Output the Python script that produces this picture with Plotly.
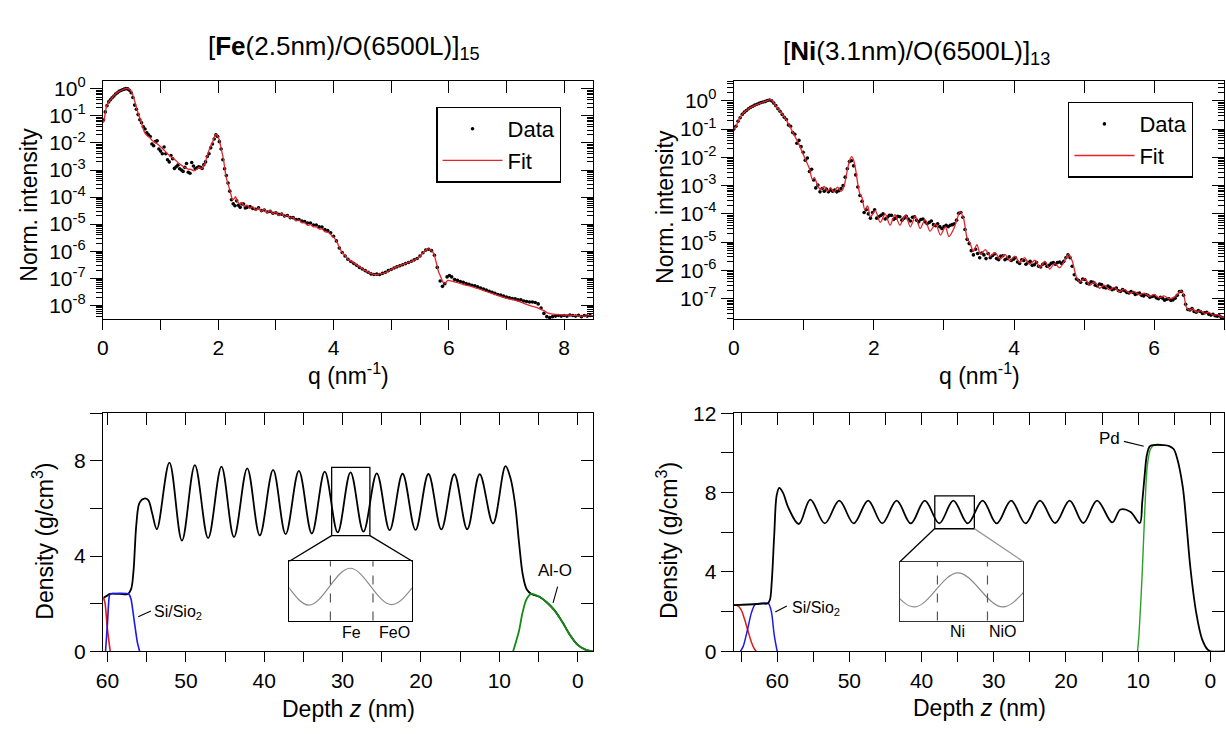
import plotly.graph_objects as go

W, H = 1226, 734
FONT = "Liberation Sans, Arial, sans-serif"

# ---------------- X-ray reflectivity, Fe/O multilayer ----------------
fe_q_fit = [0.00, 0.02, 0.06, 0.10, 0.15, 0.20, 0.26, 0.33, 0.41, 0.45,
            0.49, 0.55, 0.61, 0.66, 0.72, 0.76, 0.81, 0.86, 0.92, 0.98,
            1.04, 1.10, 1.18, 1.25, 1.32, 1.40, 1.47, 1.53, 1.58, 1.63,
            1.67, 1.71, 1.76, 1.81, 1.86, 1.90, 1.93, 1.96, 1.99, 2.02,
            2.05, 2.09, 2.13, 2.16, 2.19, 2.22, 2.25, 2.28, 2.30, 2.33,
            2.37, 2.41, 2.45, 2.50, 2.55, 2.60, 2.65, 2.70, 2.75, 2.80,
            2.85, 2.90, 2.95, 3.00, 3.05, 3.10, 3.15, 3.20, 3.25, 3.30,
            3.35, 3.40, 3.45, 3.50, 3.55, 3.60, 3.65, 3.70, 3.75, 3.80,
            3.85, 3.90, 3.95, 4.00, 4.05, 4.10, 4.15, 4.20, 4.25, 4.30,
            4.38, 4.46, 4.55, 4.65, 4.72, 4.80, 4.89, 4.98, 5.08, 5.17,
            5.26, 5.35, 5.44, 5.50, 5.57, 5.62, 5.66, 5.70, 5.74, 5.78,
            5.82, 5.86, 5.90, 5.94, 5.98, 6.03, 6.09, 6.18, 6.27, 6.38,
            6.50, 6.62, 6.73, 6.85, 6.96, 7.08, 7.19, 7.30, 7.42, 7.52,
            7.59, 7.65, 7.71, 7.78, 7.85, 8.00, 8.15, 8.30, 8.50]
fe_log_fit = [-1.25, -1.15, -0.66, -0.48, -0.36, -0.22, -0.12, -0.04, 0.02, 0.00,
              -0.08, -0.45, -0.90, -1.20, -1.60, -1.72, -1.80, -1.92, -2.00, -2.10,
              -2.22, -2.35, -2.52, -2.62, -2.76, -2.88, -2.96, -2.98, -3.03, -2.97,
              -2.90, -2.95, -2.80, -2.46, -2.15, -1.98, -1.80, -1.68, -1.75, -1.90,
              -2.20, -2.60, -3.18, -3.45, -3.66, -3.90, -4.10, -4.05, -3.98, -4.15,
              -4.25, -4.20, -4.35, -4.30, -4.42, -4.35, -4.50, -4.40, -4.52, -4.45,
              -4.58, -4.50, -4.62, -4.55, -4.68, -4.60, -4.72, -4.68, -4.78, -4.75,
              -4.88, -4.85, -4.95, -4.95, -5.05, -5.02, -5.10, -5.10, -5.18, -5.18,
              -5.28, -5.30, -5.38, -5.48, -5.62, -5.85, -6.05, -6.15, -6.30, -6.36,
              -6.47, -6.59, -6.72, -6.82, -6.87, -6.84, -6.80, -6.70, -6.59, -6.52,
              -6.45, -6.38, -6.29, -6.20, -6.02, -5.93, -5.92, -5.98, -6.10, -6.40,
              -6.75, -6.95, -7.15, -7.18, -7.08, -7.10, -7.13, -7.18, -7.25, -7.30,
              -7.38, -7.47, -7.55, -7.63, -7.72, -7.78, -7.84, -7.93, -8.02, -8.08,
              -8.14, -8.20, -8.28, -8.32, -8.34, -8.36, -8.37, -8.40, -8.38]

fe_q_data = [0.01, 0.04, 0.07, 0.10, 0.13, 0.16, 0.19, 0.22, 0.25, 0.28,
             0.31, 0.34, 0.37, 0.40, 0.43, 0.46, 0.49, 0.52, 0.55, 0.58,
             0.61, 0.64, 0.67, 0.70, 0.73, 0.76, 0.79, 0.82, 0.85, 0.88,
             0.91, 0.94, 0.97, 1.00, 1.03, 1.06, 1.09, 1.12, 1.15, 1.18,
             1.21, 1.24, 1.27, 1.30, 1.33, 1.36, 1.39, 1.42, 1.45, 1.48,
             1.51, 1.54, 1.57, 1.60, 1.63, 1.66, 1.69, 1.72, 1.75, 1.78,
             1.81, 1.84, 1.87, 1.90, 1.93, 1.96, 1.99, 2.02, 2.05, 2.08,
             2.11, 2.14, 2.17, 2.20, 2.23, 2.26, 2.29, 2.32, 2.35, 2.38,
             2.41, 2.44, 2.47, 2.50,
             2.55, 2.60, 2.65, 2.70, 2.75, 2.80, 2.85, 2.90, 2.95, 3.00,
             3.05, 3.10, 3.15, 3.20, 3.25, 3.30, 3.35, 3.40, 3.45, 3.50,
             3.55, 3.60, 3.65, 3.70, 3.75, 3.80, 3.85, 3.90, 3.95, 4.00,
             4.05, 4.10, 4.15, 4.20, 4.25, 4.30, 4.35, 4.40, 4.45, 4.50,
             4.55, 4.60, 4.65, 4.70, 4.75, 4.80, 4.85, 4.90, 4.95, 5.00,
             5.05, 5.10, 5.15, 5.20, 5.25, 5.30, 5.35, 5.40, 5.45, 5.50,
             5.55, 5.60, 5.65, 5.70, 5.75, 5.80, 5.85, 5.89, 5.93, 5.97,
             6.01, 6.05, 6.10, 6.15, 6.20, 6.25, 6.30, 6.35, 6.40, 6.45,
             6.50, 6.55, 6.60, 6.65, 6.70, 6.75, 6.80, 6.85, 6.90, 6.95,
             7.00, 7.05, 7.10, 7.15, 7.20, 7.25, 7.30, 7.35, 7.40, 7.45,
             7.50, 7.55, 7.60, 7.65, 7.70, 7.75, 7.80, 7.85, 7.90, 7.95,
             8.00, 8.05, 8.10, 8.15, 8.20, 8.25, 8.30, 8.35, 8.40, 8.45]
fe_log_data = [-1.15, -0.85, -0.62, -0.48, -0.40, -0.33, -0.26, -0.19, -0.14, -0.09,
               -0.06, -0.03, -0.01, 0.01, 0.00, -0.05, -0.14, -0.32, -0.60, -0.75,
               -0.95, -1.14, -1.25, -1.40, -1.48, -1.62, -1.70, -1.76, -2.04, -2.10,
               -1.95, -1.92, -2.22, -2.30, -2.40, -2.15, -2.40, -2.62, -2.70, -2.46,
               -2.58, -2.94, -2.88, -2.82, -2.95, -3.00, -3.05, -2.90, -2.76, -3.08,
               -3.12, -2.72, -2.85, -2.95, -2.92, -2.88, -2.90, -2.94, -2.80, -2.70,
               -2.50, -2.40, -2.18, -2.04, -1.85, -1.70, -1.76, -1.95, -2.22, -2.62,
               -2.95, -3.20, -3.48, -3.78, -4.10, -4.25, -4.32, -4.14, -4.30, -4.38,
               -4.25, -4.26, -4.40, -4.38,
               -4.35, -4.42, -4.45, -4.40, -4.50, -4.48, -4.55, -4.53, -4.60, -4.58,
               -4.64, -4.63, -4.70, -4.68, -4.76, -4.76, -4.83, -4.83, -4.89, -4.90,
               -4.96, -4.96, -5.03, -5.03, -5.10, -5.11, -5.20, -5.24, -5.32, -5.45,
               -5.62, -5.88, -6.05, -6.18, -6.30, -6.38, -6.45, -6.52, -6.60, -6.66,
               -6.72, -6.78, -6.84, -6.86, -6.85, -6.86, -6.82, -6.78, -6.72, -6.68,
               -6.62, -6.58, -6.54, -6.50, -6.46, -6.42, -6.37, -6.32, -6.27, -6.18,
               -6.06, -5.96, -5.93, -5.98, -6.15, -6.60, -7.10, -7.30, -7.20, -6.95,
               -6.90, -6.95, -7.05, -7.08, -7.12, -7.15, -7.20, -7.22, -7.26, -7.28,
               -7.32, -7.36, -7.40, -7.44, -7.48, -7.52, -7.56, -7.60, -7.62, -7.66,
               -7.70, -7.72, -7.75, -7.76, -7.80, -7.80, -7.84, -7.86, -7.88, -7.88,
               -7.90, -7.95, -8.10, -8.30, -8.42, -8.45, -8.42, -8.40, -8.38, -8.40,
               -8.38, -8.40, -8.36, -8.38, -8.40, -8.37, -8.42, -8.38, -8.40, -8.38]

# ---------------- X-ray reflectivity, Ni/O multilayer ----------------
ni_q_fit = [0.00, 0.025, 0.05, 0.08, 0.13, 0.18, 0.25, 0.32, 0.39, 0.46,
            0.52, 0.55, 0.58, 0.65, 0.72, 0.79, 0.86, 0.93, 0.98, 1.03,
            1.08, 1.12, 1.15, 1.19, 1.24, 1.29, 1.34, 1.38, 1.43, 1.48,
            1.53, 1.57, 1.62, 1.655, 1.68, 1.71, 1.74, 1.77, 1.80, 1.83,
            1.87, 1.91, 1.95, 2.02, 2.09, 2.16, 2.23, 2.30, 2.37, 2.45,
            2.52, 2.59, 2.66, 2.73, 2.80, 2.88, 2.95, 3.02, 3.07, 3.14,
            3.18, 3.23, 3.28, 3.33, 3.37, 3.42, 3.47, 3.52, 3.59, 3.66,
            3.73, 3.80, 3.87, 3.94, 4.01, 4.08, 4.15, 4.22, 4.30, 4.37,
            4.44, 4.51, 4.58, 4.65, 4.72, 4.78, 4.83, 4.89, 4.94, 5.01,
            5.08, 5.15, 5.22, 5.29, 5.36, 5.43, 5.50, 5.57, 5.65, 5.72,
            5.79, 5.86, 5.93, 6.00, 6.07, 6.14, 6.21, 6.28, 6.34, 6.38,
            6.42, 6.46, 6.50, 6.55, 6.60, 6.66, 6.72, 6.78, 6.84, 6.90,
            6.96, 7.00]
ni_log_fit = [-1.00, -0.94, -0.80, -0.63, -0.45, -0.34, -0.22, -0.14, -0.07, -0.01,
              0.04, 0.00, -0.11, -0.34, -0.57, -0.86, -1.20, -1.54, -1.83, -2.12,
              -2.40, -2.78, -2.72, -2.95, -3.15, -3.03, -3.20, -3.07, -3.23, -3.05,
              -3.20, -3.05, -2.45, -2.08, -1.97, -2.10, -2.45, -2.95, -3.30, -3.43,
              -3.85, -3.72, -4.10, -3.88, -4.30, -4.00, -4.40, -4.03, -4.40, -4.04,
              -4.46, -4.08, -4.52, -4.20, -4.61, -4.35, -4.75, -4.46, -4.80, -4.52,
              -4.23, -3.92, -4.17, -4.86, -5.03, -5.32, -5.09, -5.43, -5.26, -5.49,
              -5.37, -5.60, -5.43, -5.66, -5.49, -5.72, -5.55, -5.78, -5.64, -5.89,
              -5.68, -5.95, -5.75, -5.91, -5.66, -5.43, -5.66, -6.23, -6.40, -6.29,
              -6.52, -6.40, -6.63, -6.52, -6.69, -6.60, -6.75, -6.67, -6.80, -6.75,
              -6.86, -6.80, -6.92, -6.85, -6.97, -6.90, -7.00, -6.95, -6.82, -6.72,
              -6.85, -7.30, -7.40, -7.35, -7.47, -7.42, -7.52, -7.48, -7.58, -7.56,
              -7.64, -7.66]

ni_q_data = [0.00, 0.03, 0.06, 0.09, 0.12, 0.15, 0.18, 0.21, 0.24, 0.27,
             0.30, 0.33, 0.36, 0.39, 0.42, 0.45, 0.48, 0.51, 0.54, 0.57,
             0.60, 0.63, 0.66, 0.69, 0.72, 0.75, 0.78, 0.81, 0.84, 0.87,
             0.90, 0.93, 0.96, 0.99, 1.02, 1.05, 1.08, 1.11, 1.14, 1.17,
             1.20, 1.23, 1.26, 1.29, 1.32, 1.35, 1.38, 1.41, 1.44, 1.47,
             1.50, 1.53, 1.56, 1.59, 1.62, 1.65, 1.68, 1.71, 1.74, 1.77,
             1.80, 1.83, 1.86, 1.89, 1.92, 1.95, 1.98, 2.01, 2.04, 2.07,
             2.10, 2.13, 2.16, 2.19, 2.22, 2.25, 2.28, 2.31, 2.34, 2.37,
             2.40, 2.43, 2.46, 2.49, 2.52, 2.55, 2.58, 2.61, 2.64, 2.67,
             2.70, 2.73, 2.76, 2.79, 2.82, 2.85, 2.88, 2.91, 2.94, 2.97,
             3.00, 3.03, 3.06, 3.09, 3.12, 3.15, 3.18, 3.21, 3.24, 3.27,
             3.30, 3.33, 3.36, 3.39, 3.42, 3.45, 3.48, 3.51, 3.54, 3.57,
             3.60, 3.63, 3.66, 3.69, 3.72, 3.75, 3.78, 3.81, 3.84, 3.87,
             3.90, 3.93, 3.96, 3.99, 4.02, 4.05, 4.08, 4.11, 4.14, 4.17,
             4.20, 4.23, 4.26, 4.29, 4.32, 4.35, 4.38, 4.41, 4.44, 4.47,
             4.50, 4.53, 4.56, 4.59, 4.62, 4.65, 4.68, 4.71, 4.74, 4.77,
             4.80, 4.83, 4.86, 4.89, 4.92, 4.95, 4.98, 5.01, 5.04, 5.07,
             5.10, 5.13, 5.16, 5.19, 5.22, 5.25, 5.28, 5.31, 5.34, 5.37,
             5.40, 5.43, 5.46, 5.49, 5.52, 5.55, 5.58, 5.61, 5.64, 5.67,
             5.70, 5.73, 5.76, 5.79, 5.82, 5.85, 5.88, 5.91, 5.94, 5.97,
             6.00, 6.03, 6.06, 6.09, 6.12, 6.15, 6.18, 6.21, 6.24, 6.27,
             6.30, 6.33, 6.36, 6.39, 6.42, 6.45, 6.48, 6.51, 6.54, 6.57,
             6.60, 6.63, 6.66, 6.69, 6.72, 6.75, 6.78, 6.81, 6.84, 6.87,
             6.90, 6.93, 6.96, 6.99]
ni_log_data = [-1.00, -0.90, -0.72, -0.60, -0.48, -0.40, -0.34, -0.28, -0.23, -0.19,
               -0.15, -0.12, -0.09, -0.06, -0.04, -0.02, 0.01, 0.03, 0.00, -0.08,
               -0.17, -0.28, -0.37, -0.48, -0.58, -0.66, -0.85, -0.90, -1.12, -1.18,
               -1.50, -1.40, -1.62, -1.82, -2.10, -2.02, -2.50, -2.42, -2.80, -3.08,
               -2.98, -3.22, -3.10, -3.20, -3.12, -3.22, -3.15, -3.20, -3.16, -3.22,
               -3.18, -3.10, -3.00, -2.70, -2.40, -2.15, -2.12, -2.30, -2.62, -3.05,
               -3.35, -3.55, -3.95, -3.85, -4.00, -4.15, -3.95, -3.85, -4.15, -4.10,
               -4.05, -4.00, -4.18, -4.12, -4.05, -4.05, -4.20, -4.15, -4.08, -4.10,
               -4.22, -4.15, -4.08, -4.18, -4.25, -4.12, -4.10, -4.22, -4.28, -4.20,
               -4.18, -4.28, -4.35, -4.30, -4.25, -4.38, -4.42, -4.35, -4.45, -4.52,
               -4.45, -4.40, -4.45, -4.40, -4.38, -4.35, -4.22, -3.98, -3.95, -4.12,
               -4.55, -4.90, -5.05, -5.30, -5.45, -5.25, -5.40, -5.55, -5.38, -5.45,
               -5.58, -5.40, -5.55, -5.48, -5.42, -5.58, -5.62, -5.50, -5.48, -5.62,
               -5.58, -5.52, -5.65, -5.60, -5.55, -5.70, -5.75, -5.62, -5.65, -5.78,
               -5.72, -5.68, -5.82, -5.80, -5.72, -5.85, -5.88, -5.78, -5.75, -5.85,
               -5.82, -5.75, -5.72, -5.78, -5.72, -5.70, -5.75, -5.68, -5.55, -5.45,
               -5.55, -5.85, -6.15, -6.30, -6.35, -6.42, -6.30, -6.32, -6.45, -6.48,
               -6.40, -6.42, -6.52, -6.55, -6.48, -6.50, -6.60, -6.62, -6.55, -6.60,
               -6.68, -6.65, -6.62, -6.72, -6.74, -6.68, -6.72, -6.78, -6.80, -6.75,
               -6.78, -6.85, -6.82, -6.80, -6.88, -6.90, -6.85, -6.88, -6.95, -6.92,
               -6.90, -6.97, -7.00, -6.95, -6.98, -7.05, -7.02, -7.00, -7.06, -7.04,
               -6.98, -6.88, -6.75, -6.74, -6.88, -7.20, -7.38, -7.40, -7.35, -7.45,
               -7.48, -7.42, -7.45, -7.52, -7.50, -7.48, -7.55, -7.58, -7.55, -7.60,
               -7.62, -7.60, -7.66, -7.68]

# ---------------- density profiles ----------------
fe_z = [60.5, 60.1, 59.7, 58.5, 57.4, 57.0, 56.7, 56.3, 55.9, 55.3,
        54.8, 54.3, 53.7, 52.1, 50.5, 48.85, 47.16, 45.46, 43.86, 42.17,
        40.57, 38.87, 37.27, 35.58, 33.93, 32.28, 30.63, 28.99, 27.34, 25.64,
        24.0, 22.35, 20.7, 19.05, 17.4, 15.75, 14.1, 12.51, 10.81, 9.22,
        8.6, 8.0, 7.5, 7.0, 6.5, 5.91, 4.9, 3.89, 2.91, 1.94,
        0.98, 0.0, -0.97, -1.94]
fe_rho = [2.25, 2.33, 2.41, 2.41, 2.41, 2.6, 3.3, 5.4, 6.25, 6.42,
          6.35, 5.8, 5.13, 7.93, 4.65, 7.82, 4.76, 7.76, 4.80, 7.69,
          4.87, 7.62, 4.92, 7.58, 4.95, 7.55, 5.00, 7.52, 5.03, 7.48,
          5.09, 7.46, 5.10, 7.45, 5.12, 7.44, 5.13, 7.44, 5.37, 7.78,
          7.3, 6.2, 4.6, 3.2, 2.6, 2.41, 2.29, 2.04, 1.70, 1.22,
          0.68, 0.27, 0.07, 0.0]
fe_si_z = [60.5, 60.3, 60.0, 59.65]
fe_si_rho = [2.25, 2.0, 0.9, 0.0]
fe_sio2_z = [60.25, 60.0, 59.75, 59.6, 57.3, 57.0, 56.6, 56.2, 55.9]
fe_sio2_rho = [0.0, 1.2, 2.35, 2.41, 2.41, 2.2, 1.3, 0.4, 0.0]
fe_alo_z = [8.24, 7.52, 7.04, 6.55, 5.91, 4.9, 3.89, 2.91, 1.94, 0.98, 0.0, -0.97, -1.94]
fe_alo_rho = [0.0, 0.82, 1.63, 2.18, 2.41, 2.29, 2.04, 1.70, 1.22, 0.68, 0.27, 0.07, 0.0]

ni_z = [66.0, 64.0, 62.0, 61.3, 61.0, 60.75, 60.4, 60.05, 59.7, 59.2,
        58.4, 57.0, 55.4, 53.4, 51.4, 49.4, 47.4, 45.45, 43.45, 41.5,
        39.55, 37.55, 35.6, 33.6, 31.55, 29.6, 27.6, 25.6, 23.6, 21.5,
        19.5, 17.6, 15.7, 13.6, 12.45, 11.1, 9.78, 9.45, 9.1, 8.8,
        8.4, 7.9, 6.5, 5.7, 5.1, 4.63, 3.83, 3.3, 2.77, 1.97,
        1.17, 0.37, 0.0, -1.9]
ni_rho = [2.33, 2.36, 2.40, 2.42, 2.6, 3.5, 5.9, 7.9, 8.24, 8.0,
          7.2, 6.42, 7.65, 6.45, 7.6, 6.45, 7.6, 6.45, 7.6, 6.45,
          7.6, 6.45, 7.6, 6.45, 7.6, 6.45, 7.6, 6.45, 7.6, 6.47,
          7.6, 6.47, 7.6, 6.5, 7.15, 7.04, 6.47, 7.5, 8.9, 9.9,
          10.33, 10.4, 10.4, 10.35, 10.2, 9.76, 8.29, 6.34, 4.2, 1.95,
          0.63, 0.08, 0.0, 0.0]
ni_si_z = [66.0, 65.5, 65.0, 64.5, 64.1, 63.6, 63.2, 62.9]
ni_si_rho = [2.33, 2.3, 2.1, 1.6, 1.1, 0.5, 0.15, 0.0]
ni_sio2_z = [65.1, 64.7, 64.1, 63.6, 63.1, 62.7, 61.2, 60.8, 60.4, 60.0]
ni_sio2_rho = [0.0, 0.25, 1.1, 1.9, 2.35, 2.4, 2.4, 2.0, 0.8, 0.0]
ni_pd_z = [10.1, 9.9, 9.45, 9.08, 8.76, 8.3, 7.75, 6.8]
ni_pd_rho = [0.0, 0.8, 3.9, 7.15, 9.3, 10.2, 10.4, 10.4]

# zoom windows (depth range, density range) and layer boundaries in the insets
fe_zoom_z = [31.4, 26.52]
fe_zoom_rho = [4.86, 7.73]
fe_bounds = [29.77, 28.08]
ni_zoom_z = [38.17, 32.69]
ni_zoom_rho = [6.18, 7.84]
ni_bounds = [36.51, 34.28]

# ---------------- figure ----------------
BLACK = "black"
RED_FIT = "#e3242b"
BLUE = "#1a1ae6"
RED = "#e01818"
GREEN = "#148c14"
GREEN_PD = "#2aa02a"
GRAY = "#8a8a8a"


def fx(p):
    return p / W


def fy(p):
    return 1 - p / H


def pw(v):
    return [10.0 ** e for e in v]


fig = go.Figure()

# reflectivity curves
fig.add_trace(go.Scatter(x=fe_q_data, y=pw(fe_log_data), mode="markers", name="Data",
                         marker=dict(color=BLACK, size=3.6), xaxis="x", yaxis="y",
                         legend="legend"))
fig.add_trace(go.Scatter(x=fe_q_fit, y=pw(fe_log_fit), mode="lines", name="Fit",
                         line=dict(color=RED_FIT, width=1.3, shape="spline", smoothing=0.8),
                         xaxis="x", yaxis="y", legend="legend"))
fig.add_trace(go.Scatter(x=ni_q_data, y=pw(ni_log_data), mode="markers", name="Data",
                         marker=dict(color=BLACK, size=3.6), xaxis="x2", yaxis="y2",
                         legend="legend2"))
fig.add_trace(go.Scatter(x=ni_q_fit, y=pw(ni_log_fit), mode="lines", name="Fit",
                         line=dict(color=RED_FIT, width=1.3, shape="spline", smoothing=0.8),
                         xaxis="x2", yaxis="y2", legend="legend2"))


def prof(z, r, color, width, xa, ya, smooth=1.0):
    fig.add_trace(go.Scatter(x=z, y=r, mode="lines", showlegend=False,
                             line=dict(color=color, width=width, shape="spline", smoothing=smooth),
                             xaxis=xa, yaxis=ya, hoverinfo="skip"))


# Fe density profile
prof(fe_z, fe_rho, BLACK, 1.8, "x3", "y3")
prof(fe_si_z, fe_si_rho, RED, 1.6, "x3", "y3", 0.6)
prof(fe_sio2_z, fe_sio2_rho, BLUE, 1.6, "x3", "y3", 0.6)
prof(fe_alo_z, fe_alo_rho, GREEN, 1.8, "x3", "y3", 0.8)
# Ni density profile
prof(ni_si_z, ni_si_rho, RED, 1.5, "x4", "y4", 0.7)
prof(ni_sio2_z, ni_sio2_rho, BLUE, 1.5, "x4", "y4", 0.7)
prof(ni_pd_z, ni_pd_rho, GREEN_PD, 1.4, "x4", "y4", 0.7)
prof(ni_z, ni_rho, BLACK, 1.8, "x4", "y4")
# insets: magnified stretch of each profile
prof(fe_z, fe_rho, GRAY, 1.2, "x5", "y5")
prof(ni_z, ni_rho, GRAY, 1.2, "x6", "y6")

# empty traces that register the mirrored (top / right) axes
for xa, ya in [("x7", "y"), ("x8", "y2"), ("x9", "y3"), ("x10", "y4"),
               ("x", "y7"), ("x2", "y8"), ("x3", "y9"), ("x4", "y10")]:
    fig.add_trace(go.Scatter(x=[], y=[], xaxis=xa, yaxis=ya, showlegend=False,
                             hoverinfo="skip"))

TICKFONT = dict(family=FONT, size=21, color=BLACK)

# column / row placement in pixels
LX0, LX1 = 96.5, 589.3
RX0, RX1 = 731.0, 1224.2
TY0, TY1 = 71.0, 317.0
BY0, BY1 = 414.3, 660.0


def lin_axis(dtick, minor_dtick, ticklen=10, **kw):
    d = dict(showline=True, linecolor=BLACK, linewidth=1.3, showgrid=False, zeroline=False,
             ticks="outside", ticklen=ticklen, tickwidth=1.2, tickcolor=BLACK,
             tickfont=TICKFONT, mirror=False, tickmode="linear", tick0=0, dtick=dtick,
             minor=dict(tickmode="linear", tick0=0, dtick=minor_dtick, ticks="outside",
                        ticklen=ticklen, tickwidth=1.2, tickcolor=BLACK, showgrid=False))
    d.update(kw)
    return d


fe_decades = list(range(-8, 1))
ni_decades = list(range(-7, 1))
fe_major = [10.0 ** n for n in fe_decades]
ni_major = [10.0 ** n for n in ni_decades]
fe_major_txt = ["10<sup>%d</sup>" % n for n in fe_decades]
ni_major_txt = ["10<sup>%d</sup>" % n for n in ni_decades]
minor_vals = [k * 10.0 ** n for n in range(-10, 1) for k in range(2, 10)]


def log_axis(rng, major, major_txt, **kw):
    d = dict(type="log", range=rng, tickmode="array", tickvals=major, ticktext=major_txt,
             showline=True, linecolor=BLACK, linewidth=1.3, showgrid=False, zeroline=False,
             ticks="outside", ticklen=12, tickwidth=1.2, tickcolor=BLACK, tickfont=TICKFONT,
             minor=dict(tickmode="array", tickvals=minor_vals, ticks="outside",
                        ticklen=6, tickwidth=1, tickcolor=BLACK, showgrid=False))
    d.update(kw)
    return d


fe_log_range = [-8.51, 0.30]
ni_log_range = [-7.72, 0.71]

inset_common = dict(showline=True, mirror=True, linewidth=1.3, showticklabels=False,
                    ticks="", showgrid=False, zeroline=False)

layout_axes = dict(
    xaxis=lin_axis(2, 1, domain=[fx(LX0), fx(LX1)], range=[0, 8.5], anchor="y"),
    yaxis=log_axis(fe_log_range, fe_major, fe_major_txt,
                   domain=[fy(TY1), fy(TY0)], anchor="x"),
    xaxis2=lin_axis(2, 1, domain=[fx(RX0), fx(RX1)], range=[0, 7], anchor="y2"),
    yaxis2=log_axis(ni_log_range, ni_major, ni_major_txt,
                    domain=[fy(TY1), fy(TY0)], anchor="x2"),
    xaxis3=lin_axis(10, 5, domain=[fx(LX0), fx(LX1)], range=[60.58, -1.94], anchor="y3"),
    yaxis3=lin_axis(4, 2, ticklen=12, domain=[fy(BY1), fy(BY0)], range=[0, 10], anchor="x3"),
    xaxis4=lin_axis(10, 5, domain=[fx(RX0), fx(RX1)], range=[66.0, -1.91], anchor="y4"),
    yaxis4=lin_axis(4, 2, ticklen=12, domain=[fy(BY1), fy(BY0)], range=[0, 12], anchor="x4"),
    # insets
    xaxis5=dict(domain=[fx(284.0), fx(407.6)], range=fe_zoom_z, anchor="y5",
                linecolor=BLACK, **inset_common),
    yaxis5=dict(domain=[fy(628.3), fy(567.0)], range=[3.94, 8.0], anchor="x5",
                linecolor=BLACK, **inset_common),
    xaxis6=dict(domain=[fx(898.3), fx(1022.0)], range=ni_zoom_z, anchor="y6",
                linecolor="#333333", **inset_common),
    yaxis6=dict(domain=[fy(628.3), fy(567.3)], range=[5.99, 7.98], anchor="x6",
                linecolor="#333333", **inset_common),
)


def mirror_axis(base, anchor, side, rng, dtick=None, log=False, major=None, ticklen=12):
    d = dict(overlaying=base, anchor=anchor, side=side, range=rng,
             showticklabels=False, ticks="inside", ticklen=ticklen, tickwidth=1.2,
             tickcolor=BLACK, showline=True, linecolor=BLACK, linewidth=1.3,
             showgrid=False, zeroline=False)
    if log:
        d.update(type="log", tickmode="array", tickvals=major,
                 minor=dict(tickmode="array", tickvals=minor_vals, ticks="inside",
                            ticklen=6, tickwidth=1, tickcolor=BLACK, showgrid=False))
    else:
        d.update(tickmode="linear", tick0=0, dtick=dtick)
    return d


layout_axes.update(
    xaxis7=mirror_axis("x", "y", "top", [0, 8.5], dtick=1),
    xaxis8=mirror_axis("x2", "y2", "top", [0, 7], dtick=1),
    xaxis9=mirror_axis("x3", "y3", "top", [60.58, -1.94], dtick=5),
    xaxis10=mirror_axis("x4", "y4", "top", [66.0, -1.91], dtick=5),
    yaxis7=mirror_axis("y", "x", "right", fe_log_range, log=True, major=fe_major),
    yaxis8=mirror_axis("y2", "x2", "right", ni_log_range, log=True, major=ni_major),
    yaxis9=mirror_axis("y3", "x3", "right", [0, 10], dtick=2),
    yaxis10=mirror_axis("y4", "x4", "right", [0, 12], dtick=2),
)

fig.update_layout(**layout_axes)

# zoom boxes, connectors and layer-boundary markers
shapes = [
    dict(type="rect", xref="x3", yref="y3", x0=fe_zoom_z[0], x1=fe_zoom_z[1],
         y0=fe_zoom_rho[0], y1=fe_zoom_rho[1], line=dict(color=BLACK, width=1.3)),
    dict(type="rect", xref="x4", yref="y4", x0=ni_zoom_z[0], x1=ni_zoom_z[1],
         y0=ni_zoom_rho[0], y1=ni_zoom_rho[1], line=dict(color=BLACK, width=1.3)),
]


def seg(x0, y0, x1, y1, color=BLACK, width=1.3, dash="solid"):
    shapes.append(dict(type="line", xref="paper", yref="paper", x0=fx(x0), y0=fy(y0),
                       x1=fx(x1), y1=fy(y1), line=dict(color=color, width=width, dash=dash)))


seg(326.5, 540.6, 284.0, 567.0)
seg(365.0, 540.6, 407.6, 567.0)
seg(933.1, 533.3, 898.3, 567.3)
seg(972.9, 533.3, 1022.0, 567.3, color="#9a9a9a")
# leader lines of the layer labels
seg(132.0, 624.3, 144.7, 618.3, width=1.1)
seg(553.8, 593.3, 549.2, 610.0, width=1.1)
seg(772.7, 619.3, 784.3, 613.3, width=1.1)
seg(1123.3, 443.3, 1143.3, 448.3, width=1.1)

for zb in fe_bounds:
    shapes.append(dict(type="line", xref="x5", yref="y5 domain", x0=zb, x1=zb, y0=0, y1=1,
                       line=dict(color="#555555", width=1.2, dash="dash")))
for zb in ni_bounds:
    shapes.append(dict(type="line", xref="x6", yref="y6 domain", x0=zb, x1=zb, y0=0, y1=1,
                       line=dict(color="#555555", width=1.2, dash="dash")))

fig.update_layout(shapes=shapes)


def note(text, x, y, size, xanchor="center", yanchor="middle", angle=0):
    return dict(text=text, x=fx(x), y=fy(y), xref="paper", yref="paper", showarrow=False,
                xanchor=xanchor, yanchor=yanchor, textangle=angle,
                font=dict(family=FONT, size=size, color=BLACK))


annotations = [
    note("[<b>Fe</b>(2.5nm)/O(6500L)]<sub>15</sub>", 339, 37, 26),
    note("[<b>Ni</b>(3.1nm)/O(6500L)]<sub>13</sub>", 915, 42, 26),
    note("Norm. intensity", 22, 199, 23, angle=-90),
    note("Norm. intensity", 661, 201, 23, angle=-90),
    note("q (nm<sup>-1</sup>)", 343, 374, 23),
    note("q (nm<sup>-1</sup>)", 977.6, 374, 23),
    note("Density (g/cm<sup>3</sup>)", 36, 546, 23, angle=-90),
    note("Density (g/cm<sup>3</sup>)", 664, 546, 23, angle=-90),
    note("Depth <i>z</i> (nm)", 343, 720, 23),
    note("Depth <i>z</i> (nm)", 977.6, 718, 23),
    note("Si/Sio<sub>2</sub>", 146, 620, 16, xanchor="left"),
    note("Si/Sio<sub>2</sub>", 787, 616, 16, xanchor="left"),
    note("Al-O", 551, 577, 17),
    note("Pd", 1108.5, 440, 17),
    note("Fe", 346, 641, 16),
    note("FeO", 389.6, 641, 16),
    note("Ni", 956.3, 640, 16),
    note("NiO", 1001.9, 640, 16),
]

legend_style = dict(xanchor="left", yanchor="top", bordercolor=BLACK, borderwidth=1.3,
                    bgcolor="white", font=dict(family=FONT, size=22, color=BLACK),
                    itemwidth=60, tracegroupgap=0)

fig.update_layout(
    width=W, height=H,
    margin=dict(l=0, r=0, t=0, b=0),
    paper_bgcolor="white", plot_bgcolor="white",
    font=dict(family=FONT, color=BLACK),
    annotations=annotations,
    showlegend=True,
    legend=dict(x=fx(431.7), y=fy(97.7), **legend_style),
    legend2=dict(x=fx(1067.2), y=fy(92.7), **legend_style),
)

fig.write_html("out.html")
